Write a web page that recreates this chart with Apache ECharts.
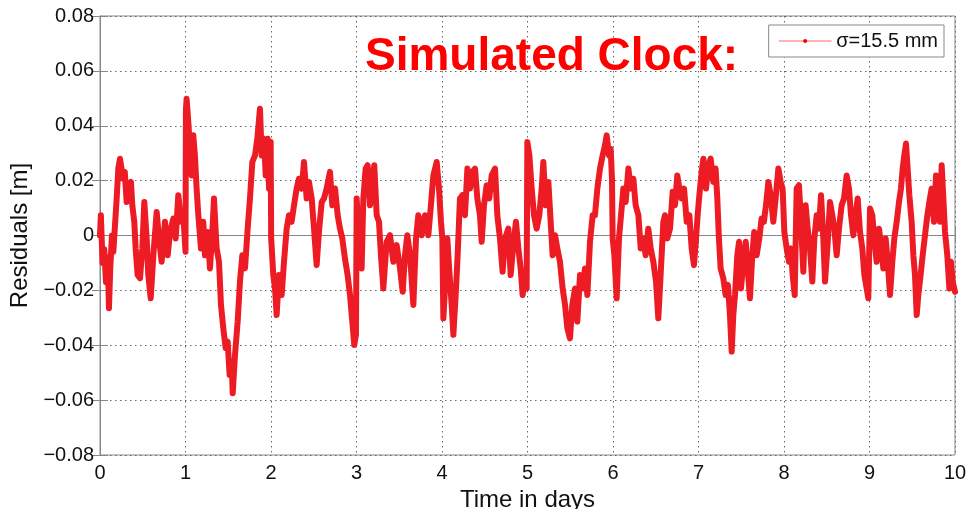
<!DOCTYPE html>
<html>
<head>
<meta charset="utf-8">
<script src="https://cdn.jsdelivr.net/npm/echarts@6/dist/echarts.min.js"></script>
<style>html,body{margin:0;padding:0;background:#fff}#c{width:967px;height:509px}</style>
</head>
<body>
<div id="c"></div>
<script>
// Time in days
var timeDays = [
0.000,0.010,0.030,0.050,0.070,0.090,0.105,0.120,0.140,0.156,0.195,0.214,0.234,0.270,0.290,0.312,0.331,0.362,0.378,0.401,0.417,0.440,0.468,0.495,0.518,0.546,0.565,0.593,0.624,0.663,0.690,0.721,0.760,0.792,0.819,0.858,0.885,0.916,0.947,0.975,1.000,
1.005,1.013,1.033,1.052,1.072,1.091,1.110,1.130,1.150,1.181,1.208,1.228,1.259,1.286,1.314,1.333,1.364,1.392,1.415,1.442,1.470,1.493,1.516,1.540,1.552,1.579,1.610,1.637,1.665,1.696,1.727,1.754,1.782,1.813,1.840,1.871,1.891,1.918,1.938,1.961,1.977,1.996,
2.002,2.027,2.047,2.066,2.093,2.125,2.152,2.183,2.210,2.241,2.269,2.300,2.327,2.359,2.386,2.417,2.444,2.476,2.503,2.534,2.561,2.593,2.620,2.651,2.690,2.717,2.749,2.780,2.807,2.834,2.865,2.896,2.924,2.951,2.974,2.994,
3.002,3.020,3.040,3.060,3.080,3.107,3.130,3.158,3.185,3.208,3.236,3.263,3.286,3.314,3.341,3.353,3.392,3.431,3.470,3.509,3.540,3.567,3.594,3.626,3.665,3.696,3.723,3.762,3.801,3.840,3.867,3.899,3.938,3.965,3.988,
4.004,4.016,4.035,4.062,4.086,4.113,4.133,4.160,4.183,4.210,4.238,4.269,4.297,4.328,4.355,4.386,4.413,4.444,4.464,4.491,4.522,4.553,4.581,4.620,4.647,4.678,4.709,4.737,4.776,4.803,4.834,4.865,4.893,4.920,4.943,4.971,4.990,
4.998,5.022,5.049,5.076,5.107,5.138,5.166,5.185,5.213,5.244,5.271,5.294,5.322,5.349,5.380,5.411,5.439,5.466,5.497,5.524,5.556,5.583,5.614,5.645,5.672,5.700,5.731,5.762,5.789,5.817,5.848,5.879,5.906,5.926,5.953,5.973,5.988,
5.996,6.016,6.043,6.070,6.094,6.121,6.148,6.180,6.207,6.238,6.265,6.297,6.324,6.355,6.382,6.413,6.441,6.472,6.503,6.530,6.557,6.589,6.608,6.635,6.667,6.698,6.725,6.752,6.776,6.800,6.831,6.862,6.893,6.920,6.947,6.971,6.990,
7.010,7.037,7.057,7.088,7.115,7.142,7.173,7.200,7.220,7.239,7.259,7.290,7.317,7.344,7.368,7.388,7.407,7.427,7.454,7.474,7.497,7.524,7.552,7.575,7.602,7.629,7.652,7.680,7.711,7.738,7.765,7.789,7.817,7.844,7.875,7.902,7.934,7.961,7.984,
8.004,8.031,8.058,8.082,8.101,8.125,8.148,8.175,8.199,8.226,8.253,8.277,8.304,8.331,8.355,8.382,8.409,8.433,8.460,8.480,8.507,8.538,8.565,8.589,8.616,8.643,8.674,8.702,8.733,8.760,8.784,8.811,8.838,8.862,8.889,8.916,8.940,8.967,8.986,
9.006,9.033,9.056,9.084,9.111,9.135,9.162,9.189,9.213,9.240,9.267,9.290,9.318,9.345,9.368,9.388,9.407,9.427,9.446,9.466,9.493,9.513,9.532,9.552,9.571,9.598,9.622,9.649,9.677,9.700,9.727,9.754,9.778,9.805,9.825,9.844,9.864,9.883,9.910,9.934,9.953,9.973,10.000
];
// Residuals in metres
var residuals = [
0.0000,0.0074,-0.0100,-0.0050,-0.0170,-0.0080,-0.0265,-0.0120,0.0000,-0.0059,0.0135,0.0244,0.0280,0.0207,0.0232,0.0122,0.0183,0.0195,0.0110,0.0050,-0.0047,-0.0144,-0.0156,-0.0047,0.0122,-0.0011,-0.0144,-0.0229,-0.0072,0.0086,-0.0011,-0.0096,0.0050,-0.0072,0.0013,0.0062,-0.0011,0.0147,0.0050,0.0074,-0.0059,
0.0460,0.0498,0.0413,0.0316,0.0219,0.0365,0.0292,0.0171,0.0074,-0.0047,0.0050,-0.0072,0.0013,-0.0120,0.0013,0.0135,-0.0047,-0.0096,-0.0253,-0.0338,-0.0411,-0.0387,-0.0508,-0.0460,-0.0575,-0.0435,-0.0314,-0.0168,-0.0072,-0.0120,0.0025,0.0135,0.0268,0.0292,0.0353,0.0462,0.0292,0.0353,0.0219,0.0353,0.0171,0.0341,
-0.0011,-0.0144,-0.0193,-0.0290,-0.0144,-0.0217,-0.0096,0.0025,0.0074,0.0050,0.0110,0.0171,0.0207,0.0171,0.0268,0.0135,0.0195,0.0135,0.0025,-0.0108,0.0013,0.0122,0.0135,0.0171,0.0232,0.0110,0.0171,0.0074,0.0025,-0.0011,-0.0084,-0.0144,-0.0217,-0.0314,-0.0399,-0.0362,
0.0135,0.0025,-0.0047,-0.0120,0.0135,0.0244,0.0256,0.0110,0.0195,0.0256,0.0074,0.0050,-0.0072,-0.0193,-0.0072,-0.0023,0.0001,-0.0096,-0.0035,-0.0120,-0.0205,-0.0072,0.0001,-0.0072,-0.0253,-0.0011,0.0074,0.0001,0.0074,0.0001,0.0098,0.0219,0.0268,0.0171,0.0050,
-0.0011,-0.0302,-0.0193,-0.0011,-0.0132,-0.0253,-0.0362,-0.0217,-0.0072,0.0135,0.0147,0.0074,0.0244,0.0171,0.0232,0.0244,0.0135,0.0074,-0.0023,0.0110,0.0183,0.0135,0.0219,0.0244,0.0074,-0.0011,-0.0132,-0.0011,0.0025,-0.0144,-0.0035,0.0050,-0.0047,-0.0120,-0.0217,-0.0144,-0.0193,
0.0341,0.0292,0.0171,0.0074,0.0025,0.0074,0.0171,0.0268,0.0110,0.0195,0.0050,-0.0072,0.0001,-0.0047,-0.0096,-0.0193,-0.0253,-0.0338,-0.0375,-0.0253,-0.0193,-0.0314,-0.0144,-0.0193,-0.0120,-0.0217,-0.0023,0.0074,0.0074,0.0171,0.0244,0.0292,0.0329,0.0365,0.0292,0.0316,0.0207,
-0.0011,-0.0072,-0.0229,-0.0011,0.0074,0.0171,0.0122,0.0244,0.0171,0.0207,0.0110,0.0074,-0.0047,-0.0011,-0.0072,0.0025,-0.0047,-0.0096,-0.0168,-0.0302,-0.0144,0.0050,0.0074,-0.0011,0.0025,0.0159,0.0110,0.0219,0.0171,0.0135,0.0171,0.0050,0.0074,-0.0047,-0.0108,-0.0011,0.0074,
0.0147,0.0232,0.0280,0.0171,0.0256,0.0280,0.0195,0.0244,0.0135,-0.0011,-0.0120,-0.0156,-0.0217,-0.0180,-0.0290,-0.0423,-0.0290,-0.0217,-0.0072,-0.0023,-0.0193,-0.0096,-0.0023,-0.0120,-0.0229,-0.0072,0.0013,-0.0072,-0.0011,0.0062,0.0050,0.0110,0.0195,0.0147,0.0050,0.0135,0.0244,0.0195,0.0171,
0.0013,-0.0047,-0.0096,-0.0047,-0.0144,-0.0217,0.0171,0.0183,0.0050,-0.0132,0.0110,0.0025,-0.0047,-0.0168,-0.0011,0.0074,0.0025,0.0147,-0.0011,-0.0168,-0.0047,0.0122,0.0074,0.0025,-0.0072,0.0025,0.0110,0.0135,0.0219,0.0171,0.0074,0.0001,0.0074,0.0135,0.0013,-0.0047,-0.0144,-0.0193,-0.0229,
0.0098,0.0074,-0.0011,-0.0096,0.0025,-0.0035,-0.0120,-0.0011,-0.0096,-0.0217,-0.0096,-0.0011,0.0050,0.0122,0.0171,0.0244,0.0292,0.0335,0.0244,0.0147,0.0050,-0.0072,-0.0144,-0.0290,-0.0217,-0.0144,-0.0072,0.0001,0.0074,0.0122,0.0171,0.0050,0.0219,0.0110,0.0050,0.0256,0.0135,0.0013,-0.0072,-0.0193,-0.0096,-0.0168,-0.0205
];
var xTicks = [0,1,2,3,4,5,6,7,8,9,10];
var yTicks = [-0.08,-0.06,-0.04,-0.02,0,0.02,0.04,0.06,0.08];
var seriesName = 'σ=15.5 mm';
var titleText = 'Simulated Clock:';
var xName = 'Time in days';
var yName = 'Residuals [m]';

var points = timeDays.map(function (t, i) { return [t, residuals[i]]; });
var font = '"Liberation Sans", Arial, Helvetica, sans-serif';
function yFmt(v) {
  var r = Math.round(v * 100) / 100;
  if (r === 0) return '0';
  var s = Math.abs(r).toFixed(2);
  return (r < 0 ? '\u2212' : '') + s;
}
var gridLine = { show: true, lineStyle: { color: '#666', width: 1, type: [1.5, 3.5] } };
var chart = echarts.init(document.getElementById('c'), null, { renderer: 'canvas' });
chart.setOption({
  animation: false,
  backgroundColor: '#fff',
  textStyle: { fontFamily: font },
  grid: { left: 100, right: 12, top: 16, bottom: 54, containLabel: false, outerBoundsMode: 'none',
          show: true, borderColor: '#888', borderWidth: 1, backgroundColor: '#fff' },
  legend: {
    right: 23, top: 25, padding: [6, 6, 6, 10],
    backgroundColor: '#fff', borderColor: '#888', borderWidth: 1, borderRadius: 0,
    itemWidth: 52, itemHeight: 5,
    lineStyle: { width: 1, color: '#f66' },
    itemStyle: { color: '#e00' },
    textStyle: { fontSize: 20, color: '#111', fontFamily: font },
    data: [seriesName]
  },
  graphic: [{
    type: 'text', left: 365, top: 34, z: 100,
    style: { text: titleText, fill: '#ff0000', font: 'bold 46px ' + font }
  }],
  xAxis: [{
    type: 'value', min: xTicks[0], max: xTicks[xTicks.length - 1], interval: 1,
    name: xName, nameLocation: 'middle', nameGap: 27,
    nameTextStyle: { fontSize: 24, color: '#111', fontFamily: font },
    axisLine: { show: true, lineStyle: { color: '#888' } },
    axisTick: { show: true, inside: true, length: 8, lineStyle: { color: '#888' } },
    axisLabel: { fontSize: 20, color: '#111', margin: 8, fontFamily: font },
    splitLine: gridLine
  }, {
    type: 'value', position: 'top', min: 0, max: 10, interval: 1,
    axisLine: { show: true, lineStyle: { color: '#888' } },
    axisTick: { show: true, inside: true, length: 8, lineStyle: { color: '#888' } },
    axisLabel: { show: false }, splitLine: { show: false }
  }],
  yAxis: [{
    type: 'value', min: yTicks[0], max: yTicks[yTicks.length - 1], interval: 0.02,
    name: yName, nameLocation: 'middle', nameGap: 58,
    nameTextStyle: { fontSize: 24, color: '#111', fontFamily: font },
    axisLine: { show: true, lineStyle: { color: '#888' } },
    axisTick: { show: true, inside: true, length: 8, lineStyle: { color: '#888' } },
    axisLabel: { fontSize: 20, color: '#111', margin: 6, formatter: yFmt, fontFamily: font },
    splitLine: gridLine
  }, {
    type: 'value', position: 'right', min: -0.08, max: 0.08, interval: 0.02,
    axisLine: { show: true, lineStyle: { color: '#888' } },
    axisTick: { show: true, inside: true, length: 8, lineStyle: { color: '#888' } },
    axisLabel: { show: false }, splitLine: { show: false }
  }],
  series: [{
    name: seriesName, type: 'line', xAxisIndex: 0, yAxisIndex: 0,
    data: points, showSymbol: false, symbol: 'circle',
    lineStyle: { color: '#ed1c24', width: 6, join: 'round', cap: 'round' },
    itemStyle: { color: '#ed1c24' },
    z: 3
  }]
});
</script>
</body>
</html>
